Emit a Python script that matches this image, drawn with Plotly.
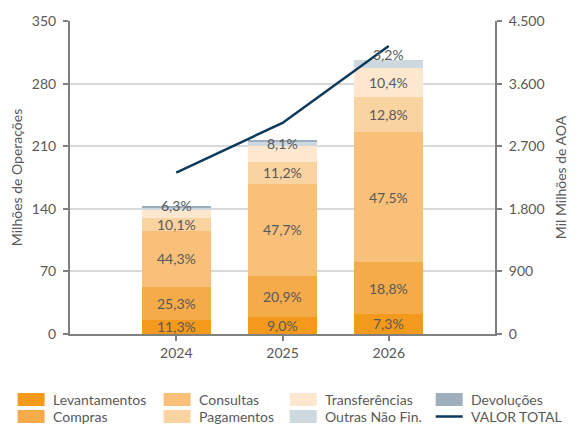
import plotly.graph_objects as go

years = ["2024", "2025", "2026"]

# Millions of operations per segment
levantamentos = [16.2, 19.5, 22.4]
compras = [36.2, 45.3, 57.7]
consultas = [63.3, 103.4, 145.8]
pagamentos = [14.4, 24.3, 39.3]
transferencias = [9.0, 17.6, 31.9]
outras = [2.4, 5.2, 9.8]
devolucoes = [1.5, 1.5, 0.0]

# Share labels
lab_levantamentos = ["11,3%", "9,0%", "7,3%"]
lab_compras = ["25,3%", "20,9%", "18,8%"]
lab_consultas = ["44,3%", "47,7%", "47,5%"]
lab_pagamentos = ["10,1%", "11,2%", "12,8%"]
lab_transferencias = ["6,3%", "8,1%", "10,4%"]
lab_outras = ["", "", "3,2%"]

# Total value, Mil Milhões de AOA (right axis)
valor_total = [2320, 3035, 4140]

left_ticks = [0, 70, 140, 210, 280, 350]
right_ticks = [0, 900, 1800, 2700, 3600, 4500]

FONT = "Lato"
TXT = "#595959"
AX = "#808080"
LINE_COLOR = "#0C3A5C"

# page body has an 8px margin, so the figure is drawn 8px in from the top-left
OFF = 8
W, H = 576 - OFF, 425 - OFF
ML, MR, MT, MB = 70 - OFF, 81, 21 - OFF, 91
PW, PH = W - ML - MR, H - MT - MB

series = [
    ("Levantamentos", levantamentos, "#F39A1C", lab_levantamentos),
    ("Compras", compras, "#F5AB4A", lab_compras),
    ("Consultas", consultas, "#F8C079", lab_consultas),
    ("Pagamentos", pagamentos, "#FAD4A0", lab_pagamentos),
    ("Transferências", transferencias, "#FDE8CF", lab_transferencias),
    ("Outras Não Fin.", outras, "#CDD8DF", lab_outras),
    ("Devoluções", devolucoes, "#9EAEBC", None),
]
# vertical label nudges (pixels) for labels the original moved above the segment
label_shift = {("Transferências", 0): 8, ("Transferências", 1): 10, ("Outras Não Fin.", 2): 9}

# legend layout (column, row), column-major like the original
legend_slots = {
    "Levantamentos": (0, 0), "Compras": (0, 1),
    "Consultas": (1, 0), "Pagamentos": (1, 1),
    "Transferências": (2, 0), "Outras Não Fin.": (2, 1),
    "Devoluções": (3, 0), "VALOR TOTAL": (3, 1),
}
col_px = [17.6, 163.6, 289.7, 435.7]   # screen pixels
row_px = [399.5, 416.5]
SW_W, SW_H = 27, 13


def px_x(px):
    return (px - OFF - ML) / PW


def px_y(py):
    return (H - MB - (py - OFF)) / PH


fig = go.Figure()
annotations = []
shapes = []
base = [0.0, 0.0, 0.0]
for name, vals, color, labels in series:
    fig.add_trace(go.Bar(
        x=years, y=vals, name=name, marker=dict(color=color, line=dict(width=0)),
        width=0.65, hoverinfo="skip", showlegend=False,
    ))
    if labels:
        for i, (v, t) in enumerate(zip(vals, labels)):
            if t:
                annotations.append(dict(
                    x=i, y=base[i] + v / 2, xref="x", yref="y", text=t,
                    showarrow=False, font=dict(family=FONT, size=14, color=TXT),
                    yshift=label_shift.get((name, i), 0),
                ))
    base = [b + v for b, v in zip(base, vals)]
    c, r = legend_slots[name]
    x0 = col_px[c]
    yc = row_px[r]
    shapes.append(dict(type="rect", xref="paper", yref="paper",
                       x0=px_x(x0), x1=px_x(x0 + SW_W),
                       y0=px_y(yc + SW_H / 2), y1=px_y(yc - SW_H / 2),
                       fillcolor=color, line=dict(width=0), layer="above"))
    annotations.append(dict(x=px_x(x0 + SW_W + 6), y=px_y(yc), xref="paper", yref="paper",
                            text=name, showarrow=False, xanchor="left", yanchor="middle",
                            font=dict(family=FONT, size=14, color=TXT)))

fig.add_trace(go.Scatter(
    x=years, y=valor_total, name="VALOR TOTAL", mode="lines",
    line=dict(color=LINE_COLOR, width=2.5), yaxis="y2", hoverinfo="skip", showlegend=False,
))
c, r = legend_slots["VALOR TOTAL"]
shapes.append(dict(type="line", xref="paper", yref="paper",
                   x0=px_x(col_px[c]), x1=px_x(col_px[c] + SW_W),
                   y0=px_y(row_px[r]), y1=px_y(row_px[r]),
                   line=dict(color=LINE_COLOR, width=2.5), layer="above"))
annotations.append(dict(x=px_x(col_px[c] + SW_W + 6), y=px_y(row_px[r]), xref="paper", yref="paper",
                        text="VALOR TOTAL", showarrow=False, xanchor="left", yanchor="middle",
                        font=dict(family=FONT, size=14, color=TXT)))

fig.update_layout(
    width=W, height=H,
    margin=dict(l=ML, r=MR, t=MT, b=MB),
    paper_bgcolor="white", plot_bgcolor="white",
    barmode="stack",
    font=dict(family=FONT, size=14, color=TXT),
    separators=",.",
    annotations=annotations,
    shapes=shapes,
    showlegend=False,
    xaxis=dict(
        type="category", range=[-1, 3], showline=True, linecolor=AX, linewidth=2,
        ticks="outside", ticklen=5, tickcolor=AX, tickwidth=1.5, automargin=False,
        showgrid=False, tickfont=dict(size=14, color=TXT),
    ),
    yaxis=dict(
        range=[0, 350], tickvals=left_ticks, showline=True, linecolor=AX, linewidth=2,
        ticks="outside", ticklen=5, tickcolor=AX, tickwidth=1.5, automargin=False,
        ticklabelstandoff=4,
        gridcolor="#D9D9D9", gridwidth=2, zeroline=False,
        title=dict(text="Milhões de Operações", font=dict(size=14, color=TXT), standoff=12),
        tickfont=dict(size=14, color=TXT),
    ),
    yaxis2=dict(
        range=[0, 4500], tickvals=right_ticks, overlaying="y", side="right",
        showline=True, linecolor=AX, linewidth=2, separatethousands=True,
        ticks="outside", ticklen=5, tickcolor=AX, tickwidth=1.5, automargin=False,
        ticklabelstandoff=4,
        showgrid=False, zeroline=False,
        title=dict(text="Mil Milhões de AOA", font=dict(size=14, color=TXT), standoff=13),
        tickfont=dict(size=14, color=TXT),
    ),
)

fig.write_html("out.html")
